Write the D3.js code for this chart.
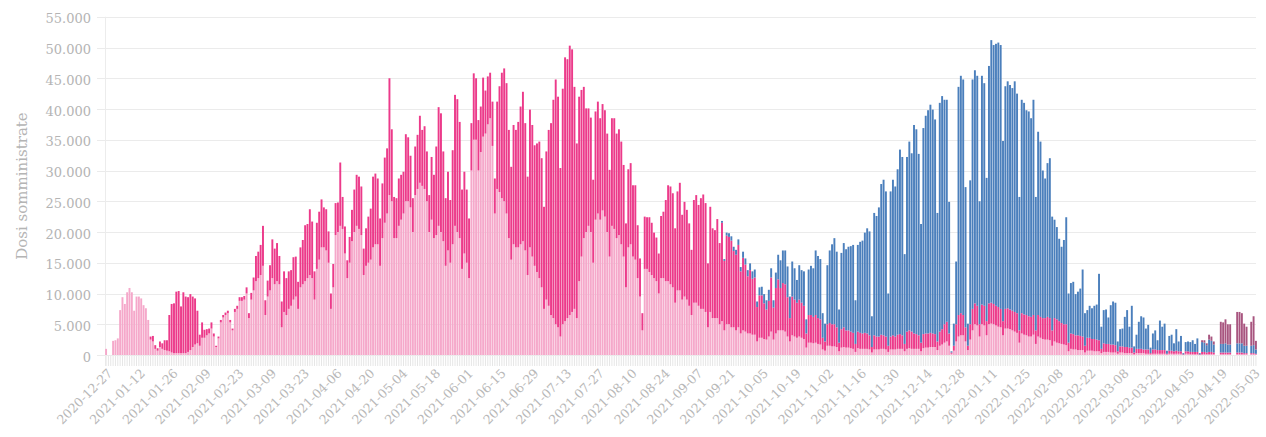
<!DOCTYPE html>
<html><head><meta charset="utf-8">
<script src="https://cdn.jsdelivr.net/npm/d3@7"></script>
<style>body{margin:0;background:#fff}svg{display:block}text{font-family:"DejaVu Serif",serif}</style>
</head><body><svg id="c" width="1266" height="437"></svg>
<script>
// ---- categories ----
const firstDate = "2020-12-27";
const dailyStart = "2020-12-30";
const dailyEnd = "2022-05-04";
const tickLabels = ["2020-12-27","2021-01-12","2021-01-26","2021-02-09","2021-02-23","2021-03-09","2021-03-23","2021-04-06","2021-04-20","2021-05-04","2021-05-18","2021-06-01","2021-06-15","2021-06-29","2021-07-13","2021-07-27","2021-08-10","2021-08-24","2021-09-07","2021-09-21","2021-10-05","2021-10-19","2021-11-02","2021-11-16","2021-11-30","2021-12-14","2021-12-28","2022-01-11","2022-01-25","2022-02-08","2022-02-22","2022-03-08","2022-03-22","2022-04-05","2022-04-19","2022-05-03"];
const yTicks = [0,5000,10000,15000,20000,25000,30000,35000,40000,45000,50000,55000];
const yTitle = "Dosi somministrate";

// ---- series values (one value per category) ----
const dose1 = [
1000,0,0,2300,2400,2700,7300,9400,8300,10200,
10900,10200,7200,9500,9500,9200,8100,7600,5700,2500,
2200,1000,700,1300,1000,800,700,600,400,300,
300,300,300,300,300,500,800,1300,1700,1900,
1500,2800,2800,3200,3500,4300,3000,1300,2700,5300,
6100,6500,6800,5300,4000,7000,7500,8800,8800,9000,
10000,6000,9000,10500,12000,12500,13000,14500,6500,9500,
10500,12500,11500,12000,11500,4500,7000,6500,7500,8000,
9000,9500,7500,11000,11500,12000,12500,13000,12500,9000,
14000,15500,17500,17500,17000,15000,7500,11000,19500,20000,
21000,20500,16500,12500,15000,18500,20000,21000,20500,19500,
13000,14500,15000,15500,17500,18000,18000,14500,19000,21500,
23000,26000,25000,19000,19000,21000,22000,23000,25000,25000,
24000,20000,26000,27000,28000,27500,27000,25000,20000,22000,
19000,19500,21000,20000,18500,14500,17000,15000,18000,21000,
20000,19000,14000,16500,15000,12500,30000,35000,35000,30000,
33000,35500,36000,37500,38500,34000,23000,27000,26500,25500,
25000,23000,19000,15500,18000,17500,17500,18000,18500,17000,
13000,17500,16000,14500,13500,12500,11000,7500,9000,8000,
6500,6000,5000,4500,3000,5000,5500,6000,6500,7000,
7500,6000,12000,16000,19000,20000,21000,20000,15000,22000,
23000,22000,23500,22500,20000,16000,21000,20500,19000,19500,
18000,16000,11000,17500,18000,16000,15500,12500,9500,4000,
14000,14000,13500,13000,12500,12000,10000,12500,12500,12000,
12000,11500,11000,8500,10500,10500,9000,9500,9000,8000,
6500,8500,8500,8000,7500,7500,7000,4500,7000,6000,
6000,6000,5000,5500,4000,5000,5000,4500,4500,4000,
4500,3500,4000,3800,3500,3500,3300,3300,2200,2800,
2800,2600,2500,3000,3800,2500,3500,4000,4000,4000,
3800,3000,2200,3200,3000,2800,3000,2800,2600,1200,
2000,2000,1900,2000,1800,1700,900,700,1500,1500,
1400,1400,1300,600,1200,1300,1200,1200,1100,1000,
500,1100,1000,1000,1000,1000,900,400,900,900,
900,1000,1000,900,500,900,900,900,1000,1000,
1000,600,1000,1100,1000,1000,1000,1000,600,1100,
1200,1200,1300,1300,1300,800,1500,1700,2000,2200,
1500,200,700,2200,3000,3200,3200,2200,800,2500,
4000,5000,4800,3000,5000,4800,3200,5000,5100,5000,
4800,4600,4500,3200,4300,4300,4200,4000,3800,3600,
2000,3500,3300,3200,3000,3000,3300,1800,3000,2800,
2600,2500,2500,2400,1500,2200,2000,1900,1800,1700,
1600,600,1000,900,900,800,800,800,400,700,
700,700,600,600,600,300,500,500,500,400,
400,400,200,400,400,300,300,300,300,100,
300,300,300,300,200,200,100,200,200,200,
200,200,200,100,200,200,200,200,200,200,
0,200,200,100,100,100,100,0,100,100,
100,100,100,100,0,0,100,100,100,100,
100,0,0,100,100,100,100,100,0,100,
100,100];

const dose2 = [
0,0,0,0,0,0,0,0,0,0,
0,0,0,0,0,0,0,0,0,500,
900,600,400,900,900,1600,1700,5900,7900,8100,
10000,10100,7600,9900,9200,8900,9100,8200,7500,5300,
1800,2500,1300,1000,800,1000,500,200,300,400,
400,400,400,400,300,500,500,600,600,600,
1000,800,1100,2100,4100,4300,4900,6500,2400,2600,
4100,6300,5800,6200,4600,4200,6600,6000,6100,5800,
6900,6500,4400,6500,7200,9100,8800,10700,9200,4600,
7500,7800,7800,6500,6700,5100,2500,3800,5200,4800,
10300,5200,4400,2900,4200,5100,6900,8300,8500,7900,
4300,6100,7500,8300,11500,11500,10700,7700,8900,10600,
10600,19000,11700,6700,6500,7700,7300,6800,10900,10400,
8400,5500,7900,8800,10900,9100,10200,8100,6000,10200,
10300,14400,19300,19300,14600,11000,12800,10200,15300,21300,
21600,18900,12900,13300,11900,9700,7700,10800,10000,8200,
7400,9600,7000,7800,7400,7200,5700,14200,17200,20400,
21600,21200,17600,15100,19400,19100,20400,22400,24300,20700,
16000,22400,21400,19600,20900,22200,21000,16600,24100,28600,
31200,35500,39800,37500,27400,38300,42900,42100,43800,42700,
36100,28400,30000,27100,24600,20100,19100,18600,13500,17600,
18200,16500,17300,17300,16000,14100,17500,18000,17000,17200,
16700,14900,10400,12700,13200,11600,12100,8600,6200,2800,
8500,8400,8900,8500,7400,7100,6500,10100,10800,13200,
15600,15900,15300,12100,16100,17500,13800,15400,14600,13400,
10600,16700,17500,16400,18000,18600,17700,10400,17100,14600,
14300,16100,13200,16000,11300,14400,14200,14100,12400,12300,
13400,10100,11800,10900,9300,10300,9100,9300,5600,6900,
6900,5800,4900,5800,8800,5200,7400,8300,6900,7700,
7700,6400,3800,6300,6000,5700,6000,5700,5400,2300,
4500,4500,4300,4500,4200,4100,1900,1500,3500,3700,
3600,3600,3200,1400,3000,3200,2800,2800,2700,2600,
1300,2700,2600,2500,2600,2500,2300,900,2300,2100,
2100,2300,2200,2100,1000,2100,2300,2100,2300,2400,
2200,1200,2800,2900,2800,2500,2400,2200,1400,2300,
2300,2300,2300,2200,2100,1400,2300,2500,3000,3200,
2000,200,800,2800,3500,3600,3300,2300,700,2500,
3500,3400,3200,2000,3200,3200,2300,3400,3400,3300,
3200,3200,3000,2300,3200,3300,3200,3200,3200,3200,
2000,3300,3300,3300,3300,3200,3200,2200,3500,3400,
3400,3500,3700,3600,2500,3800,3800,3600,3400,3300,
3400,1400,2500,2500,2300,2400,2300,2200,1100,2100,
2100,1900,2000,1900,1800,700,1400,1300,1300,1300,
1300,1200,400,1000,1000,1000,1000,900,900,300,
700,700,700,600,700,700,200,700,700,600,
600,600,600,100,500,500,400,500,400,400,
100,400,400,400,400,400,400,100,400,400,
300,400,400,300,0,0,300,300,300,300,
300,0,0,300,300,300,200,200,0,200,
200,100];

const dose3 = [
0,0,0,0,0,0,0,0,0,0, 0,0,0,0,0,0,0,0,0,0,
0,0,0,0,0,0,0,0,0,0, 0,0,0,0,0,0,0,0,0,0,
0,0,0,0,0,0,0,0,0,0, 0,0,0,0,0,0,0,0,0,0,
0,0,0,0,0,0,0,0,0,0, 0,0,0,0,0,0,0,0,0,0,
0,0,0,0,0,0,0,0,0,0, 0,0,0,0,0,0,0,0,0,0,
0,0,0,0,0,0,0,0,0,0, 0,0,0,0,0,0,0,0,0,0,
0,0,0,0,0,0,0,0,0,0, 0,0,0,0,0,0,0,0,0,0,
0,0,0,0,0,0,0,0,0,0, 0,0,0,0,0,0,0,0,0,0,
0,0,0,0,0,0,0,0,0,0, 0,0,0,0,0,0,0,0,0,0,
0,0,0,0,0,0,0,0,0,0, 0,0,0,0,0,0,0,0,0,0,
0,0,0,0,0,0,0,0,0,0, 0,0,0,0,0,0,0,0,0,0,
0,0,0,0,0,0,0,0,0,0, 0,0,0,0,0,0,0,0,0,0,
0,0,0,0,0,0,0,0,0,0, 0,0,0,0,0,0,0,0,0,0,
0,0,0,300,300,500,600,700,700,800,
900,700,1000,1000,1000,1100,1200,1300,900,1300,
1400,1500,1500,1800,1500,1200,2500,4000,4500,5300,
5500,5000,3500,5700,5100,3700,5600,5300,5600,2300,
7400,8000,7900,10500,10100,9800,4000,2900,9600,11800,
13000,14000,12300,5400,12400,13700,13200,13600,13900,14300,
7100,14100,14800,15100,16300,17100,16900,5000,19900,19600,
21000,24500,25300,23600,8500,23600,25300,24400,26900,30000,
29000,14600,28400,30700,29000,33900,33300,29500,19300,33500,
35400,36300,37100,36400,34900,20900,37200,37900,36500,36100,
21400,200,3600,10200,37100,38600,38300,22800,3600,23400,
37300,37900,37400,20000,37200,36200,23300,38600,42700,42100,
42600,43000,42900,29300,36200,36900,36500,36200,37500,35700,
21700,34700,34400,33300,33300,32300,35000,21700,29800,28500,
24000,22700,25000,26000,18500,16000,15000,13400,12400,13700,
17400,8000,8200,8500,6700,7100,7700,10900,5300,4500,
5200,5000,5400,5700,10800,3600,5400,5600,4300,6400,
7000,6900,1600,2800,2900,4900,6000,3400,6800,1000,
2300,4400,5300,5200,3400,4000,900,2600,3100,1600,
4800,3800,4300,500,2400,2600,1300,3500,1600,2500,
200,1500,1600,1600,1900,1300,2200,200,1600,1500,
1200,2000,1800,1300,0,0,1400,1400,1500,1300,
1300,0,0,1500,1500,1500,1200,1200,0,1200,
1300,700];

const dose4 = [
0,0,0,0,0,0,0,0,0,0, 0,0,0,0,0,0,0,0,0,0,
0,0,0,0,0,0,0,0,0,0, 0,0,0,0,0,0,0,0,0,0,
0,0,0,0,0,0,0,0,0,0, 0,0,0,0,0,0,0,0,0,0,
0,0,0,0,0,0,0,0,0,0, 0,0,0,0,0,0,0,0,0,0,
0,0,0,0,0,0,0,0,0,0, 0,0,0,0,0,0,0,0,0,0,
0,0,0,0,0,0,0,0,0,0, 0,0,0,0,0,0,0,0,0,0,
0,0,0,0,0,0,0,0,0,0, 0,0,0,0,0,0,0,0,0,0,
0,0,0,0,0,0,0,0,0,0, 0,0,0,0,0,0,0,0,0,0,
0,0,0,0,0,0,0,0,0,0, 0,0,0,0,0,0,0,0,0,0,
0,0,0,0,0,0,0,0,0,0, 0,0,0,0,0,0,0,0,0,0,
0,0,0,0,0,0,0,0,0,0, 0,0,0,0,0,0,0,0,0,0,
0,0,0,0,0,0,0,0,0,0, 0,0,0,0,0,0,0,0,0,0,
0,0,0,0,0,0,0,0,0,0, 0,0,0,0,0,0,0,0,0,0,
0,0,0,0,0,0,0,0,0,0, 0,0,0,0,0,0,0,0,0,0,
0,0,0,0,0,0,0,0,0,0, 0,0,0,0,0,0,0,0,0,0,
0,0,0,0,0,0,0,0,0,0, 0,0,0,0,0,0,0,0,0,0,
0,0,0,0,0,0,0,0,0,0, 0,0,0,0,0,0,0,0,0,0,
0,0,0,0,0,0,0,0,0,0, 0,0,0,0,0,0,0,0,0,0,
0,0,0,0,0,0,0,0,0,0, 0,0,0,0,0,0,0,0,0,0,
0,0,0,0,0,0,0,0,0,0, 0,0,0,0,0,0,0,0,0,0,
0,0,0,0,0,0,0,0,0,0, 0,0,0,0,0,0,0,0,0,0,
0,0,0,0,0,0,0,0,0,0, 0,0,0,0,0,0,0,0,0,0,
0,0,0,0,0,0,0,0,0,0, 0,0,0,0,0,0,0,0,0,0,
0,0,0,0,0,0,0,0,300,400,
300,800,700,500,0,0,3600,3500,3900,3300,
3300,0,0,5100,5100,4900,3600,3100,0,3900,
4700,1400];

const seriesKeys = ["dose1","dose2","dose3","dose4"];
const seriesColors = ["#f5a8ca","#ec3a8a","#4b7fbc","#a8557f"];

// ---- build ----
const parseDay = d3.utcParse("%Y-%m-%d"), fmtDay = d3.utcFormat("%Y-%m-%d");
const dates = [firstDate].concat(
  d3.utcDay.range(parseDay(dailyStart), d3.utcDay.offset(parseDay(dailyEnd), 1)).map(fmtDay));
const src = {dose1, dose2, dose3, dose4};
const rows = dates.map((d, i) => {
  const r = {date: d};
  seriesKeys.forEach(k => r[k] = src[k][i] || 0);
  return r;
});
const stacked = d3.stack().keys(seriesKeys)(rows);

const pLeft = 105, pRight = 1257, pTop = 16.75, pBase = 355;
const x = d3.scaleBand().domain(dates).range([pLeft, pRight]).paddingInner(0.18).paddingOuter(0.05);
const y = d3.scaleLinear().domain([0, 55000]).range([pBase, pTop]);

const svg = d3.select("#c");
const loc = d3.formatLocale({decimal: ",", thousands: ".", grouping: [3], currency: ["", ""]});
const fmtY = loc.format(",");

svg.append("g").selectAll("line").data(yTicks).join("line")
  .attr("x1", 97).attr("x2", 1256)
  .attr("y1", d => Math.round(y(d)) + 0.5).attr("y2", d => Math.round(y(d)) + 0.5)
  .attr("stroke", "#ebebeb").attr("stroke-width", 1);

svg.append("line").attr("x1", 105.5).attr("x2", 105.5).attr("y1", pTop).attr("y2", 366)
  .attr("stroke", "#ececec");

svg.append("g").selectAll("line").data(dates).join("line")
  .attr("x1", d => x(d) + x.bandwidth() / 2).attr("x2", d => x(d) + x.bandwidth() / 2)
  .attr("y1", pBase + 1).attr("y2", pBase + 11)
  .attr("stroke", "#e6e6e6").attr("stroke-width", 1);

svg.append("g").selectAll("g").data(stacked).join("g")
  .attr("fill", (d, i) => seriesColors[i])
  .selectAll("rect").data(d => d.filter(p => p[1] - p[0] > 0)).join("rect")
  .attr("x", p => x(p.data.date))
  .attr("width", x.bandwidth())
  .attr("y", p => y(p[1]))
  .attr("height", p => y(p[0]) - y(p[1]));

svg.append("g").selectAll("text").data(yTicks).join("text")
  .attr("x", 91).attr("y", d => y(d) + 2).attr("dy", "0.35em")
  .attr("text-anchor", "end").attr("font-size", 13).attr("fill", "#b4b4b4")
  .text(d => fmtY(d));

svg.append("text").attr("transform", "translate(22,186) rotate(-90)")
  .attr("text-anchor", "middle").attr("dy", "0.35em")
  .attr("font-size", 15).attr("fill", "#b4b4b4").text(yTitle);

svg.append("g").selectAll("text").data(tickLabels).join("text")
  .attr("transform", d => `translate(${x(d) + x.bandwidth() / 2 + 4},${pBase + 16}) rotate(-45)`)
  .attr("text-anchor", "end").attr("dy", "0.35em")
  .attr("font-size", 12.5).attr("fill", "#b8b8b8").text(d => d);

const bad = seriesKeys.filter(k => src[k].length !== dates.length).map(k => k + ":" + src[k].length);
if (bad.length) throw new Error("length mismatch " + dates.length + " " + bad.join(","));
</script></body></html>
